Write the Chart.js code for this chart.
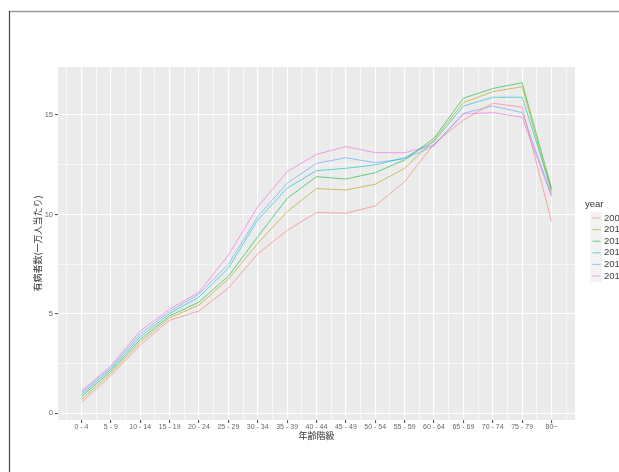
<!DOCTYPE html>
<html>
<head>
<meta charset="utf-8">
<script src="https://cdn.jsdelivr.net/npm/chart.js@4"></script>
<style>
html, body { margin: 0; padding: 0; background: #fff; }
#wrap { width: 619px; height: 472px; position: relative; }
</style>
</head>
<body>
<div id="wrap"><canvas id="chart"></canvas></div>
<script>
// ===== data =====
const ageGroups = ['0 - 4', '5 - 9', '10 - 14', '15 - 19', '20 - 24', '25 - 29', '30 - 34', '35 - 39',
    '40 - 44', '45 - 49', '50 - 54', '55 - 59', '60 - 64', '65 - 69', '70 - 74', '75 - 79', '80~'];
const years = ['2008', '2010', '2012', '2014', '2016', '2018'];

const y2008 = [0.56, 1.90, 3.44, 4.68, 5.15, 6.30, 8.02, 9.20, 10.10, 10.06, 10.43, 11.65, 13.55, 14.75, 15.59, 15.39, 9.65];
const y2010 = [0.70, 2.02, 3.60, 4.80, 5.45, 6.75, 8.55, 10.14, 11.30, 11.23, 11.52, 12.32, 13.74, 15.62, 16.17, 16.42, 11.10];
const y2012 = [0.84, 2.13, 3.72, 4.90, 5.60, 6.90, 8.88, 10.81, 11.90, 11.78, 12.10, 12.74, 13.83, 15.84, 16.33, 16.62, 11.32];
const y2014 = [0.95, 2.22, 3.86, 5.02, 5.85, 7.30, 9.72, 11.32, 12.20, 12.32, 12.49, 12.85, 13.66, 15.45, 15.89, 15.89, 11.23];
const y2016 = [1.05, 2.31, 4.00, 5.12, 6.00, 7.50, 9.89, 11.57, 12.57, 12.85, 12.60, 12.80, 13.45, 15.08, 15.45, 15.12, 10.98];
const y2018 = [1.12, 2.39, 4.15, 5.24, 6.10, 7.96, 10.39, 12.15, 13.02, 13.41, 13.11, 13.10, 13.49, 15.05, 15.12, 14.88, 10.90];

const yMajorTicks = [0, 5, 10, 15];

// ggplot hue palette, drawn semi-transparent
const lineColors = ['rgba(248,118,109,0.6)', 'rgba(183,159,0,0.6)', 'rgba(0,186,56,0.6)',
    'rgba(0,191,196,0.6)', 'rgba(97,156,255,0.6)', 'rgba(245,100,227,0.6)'];

const series = [y2008, y2010, y2012, y2014, y2016, y2018];

const FONT = "'Liberation Sans', Arial, sans-serif";
const JP_FONT = "'Noto Sans CJK JP', 'Noto Sans', sans-serif";

// ===== panel background, frame, titles, legend =====
const ggPanel = {
    id: 'ggPanel',
    beforeDraw(chart) {
        const { ctx, chartArea: a } = chart;
        ctx.save();
        ctx.fillStyle = '#fff';
        ctx.fillRect(0, 0, chart.width, chart.height);
        ctx.fillStyle = '#EBEBEB';
        ctx.fillRect(a.left, a.top, a.right - a.left, a.bottom - a.top);
        // outer frame (top + left only)
        ctx.strokeStyle = '#9a9a9a';
        ctx.lineWidth = 1.5;
        ctx.beginPath(); ctx.moveTo(9, 11.5); ctx.lineTo(chart.width, 11.5); ctx.stroke();
        ctx.strokeStyle = '#444';
        ctx.lineWidth = 1.2;
        ctx.beginPath(); ctx.moveTo(9.5, 11); ctx.lineTo(9.5, chart.height); ctx.stroke();
        ctx.restore();
    },
    afterDraw(chart) {
        const { ctx, chartArea: a } = chart;
        ctx.save();
        ctx.fillStyle = '#333';
        ctx.textAlign = 'center';
        ctx.textBaseline = 'middle';
        ctx.font = '9px ' + JP_FONT;
        ctx.fillText('年齢階級', (a.left + a.right) / 2, 436);
        ctx.translate(38, (a.top + a.bottom) / 2);
        ctx.rotate(-Math.PI / 2);
        ctx.fillText('有病者数(一万人当たり)', 0, 0);
        ctx.restore();

        // legend
        ctx.save();
        ctx.textBaseline = 'middle';
        ctx.textAlign = 'left';
        ctx.fillStyle = '#333';
        ctx.font = '9.5px ' + FONT;
        ctx.fillText('year', 585, 204);
        years.forEach((yr, i) => {
            const cy = 218 + i * 11.6;
            ctx.fillStyle = '#F2F2F2';
            ctx.fillRect(590.5, cy - 5.8, 11.6, 11.6);
            ctx.strokeStyle = lineColors[i];
            ctx.lineWidth = 1;
            ctx.beginPath(); ctx.moveTo(592.5, cy); ctx.lineTo(600.5, cy); ctx.stroke();
            ctx.fillStyle = '#444';
            ctx.font = '9.5px ' + FONT;
            ctx.fillText(yr, 604, cy);
        });
        ctx.restore();
    }
};

new Chart(document.getElementById('chart'), {
    type: 'line',
    data: {
        datasets: series.map((s, i) => ({
            label: years[i],
            data: s.map((v, k) => ({ x: k, y: v })),
            borderColor: lineColors[i],
            borderWidth: 1,
            pointRadius: 0,
            tension: 0,
            fill: false
        }))
    },
    options: {
        responsive: true,
        maintainAspectRatio: false,
        animation: false,
        layout: { padding: { left: 0, top: 67, right: 44, bottom: 0 } },
        plugins: { legend: { display: false }, tooltip: { enabled: false } },
        scales: {
            x: {
                type: 'linear',
                min: -0.8, max: 16.8,
                afterFit: s => { s.height = 52; },
                border: { display: false },
                grid: {
                    color: '#fff',
                    lineWidth: c => Number.isInteger(c.tick.value) ? 1.1 : 0.6,
                    tickColor: c => Number.isInteger(c.tick.value) ? '#555' : 'rgba(0,0,0,0)',
                    tickLength: 3
                },
                ticks: {
                    stepSize: 0.5,
                    includeBounds: false,
                    autoSkip: false,
                    maxRotation: 0,
                    padding: 0,
                    color: '#666',
                    font: { family: FONT, size: 7 },
                    callback: v => Number.isInteger(v) ? (ageGroups[v] || '') : ''
                }
            },
            y: {
                min: -0.33, max: 17.41,
                afterFit: s => { s.width = 58; },
                border: { display: false },
                grid: {
                    color: '#fff',
                    lineWidth: c => yMajorTicks.includes(c.tick.value) ? 1.1 : 0.6,
                    tickColor: c => yMajorTicks.includes(c.tick.value) ? '#555' : 'rgba(0,0,0,0)',
                    tickLength: 3
                },
                ticks: {
                    stepSize: 2.5,
                    includeBounds: false,
                    padding: 2,
                    color: '#666',
                    font: { family: FONT, size: 7.5 },
                    callback: v => yMajorTicks.includes(v) ? String(v) : ''
                }
            }
        }
    },
    plugins: [ggPanel]
});
</script>
</body>
</html>
